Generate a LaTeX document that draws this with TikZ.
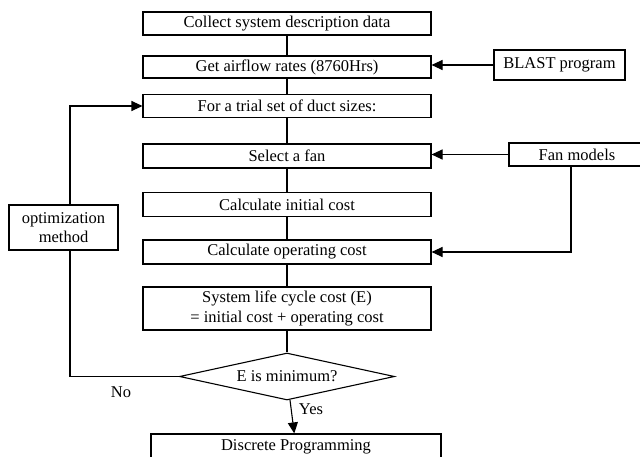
\documentclass[tikz,border=0pt]{standalone}
\usepackage{fontspec}
\setmainfont{Liberation Serif}
\usetikzlibrary{shapes.geometric,arrows.meta}
\begin{document}
\begin{tikzpicture}[x=1pt,y=-1pt,line width=1.1pt,
    box/.style={draw,rectangle,inner sep=0pt,font=\fontsize{16.5}{19.5}\selectfont},
    mainbox/.style={box,minimum width=288pt,minimum height=23pt},
    arr/.style={-{Triangle[length=11pt,width=10pt]}}]
    \useasboundingbox (0,0) rectangle (640,457);
    %
    \node[mainbox] (collect) at (287,23.5) {Collect system description data};
    \node[mainbox,minimum height=22pt] (airflow) at (287,67) {Get airflow rates (8760Hrs)};
    \node[mainbox] (trial) at (287,106) {For a trial set of duct sizes:};
    \node[mainbox,minimum height=24pt] (fan) at (287,156) {Select a fan};
    \node[mainbox,minimum height=24pt] (initial) at (287,204.5) {Calculate initial cost};
    \node[mainbox,minimum height=24pt] (operating) at (287,252) {Calculate operating cost};
    \node[mainbox,minimum height=43pt,align=center] (lcc) at (287,308.5)
        {System life cycle cost (E)\\= initial cost + operating cost};
    \node[draw,diamond,aspect=4.6,inner sep=0pt,minimum width=215pt,minimum height=47pt,
        font=\fontsize{16.5}{19.5}\selectfont] (emin) at (287,376.5) {E is minimum?};
    \node[box,minimum width=290pt,minimum height=26pt] (discrete) at (296,447) {Discrete Programming};
    %
    \node[box,minimum width=131pt,minimum height=30pt] (blast) at (559.5,65) {BLAST program};
    \node[box,minimum width=136pt,minimum height=23pt] (fanmod) at (577,154.5) {Fan models};
    \node[box,minimum width=109pt,minimum height=45pt,align=center] (optim) at (63.5,227.5)
        {optimization\\method};
    %
    \draw (collect) -- (airflow);
    \draw (airflow) -- (trial);
    \draw (trial) -- (fan);
    \draw (fan) -- (initial);
    \draw (initial) -- (operating);
    \draw (operating) -- (lcc);
    \draw (lcc) -- (emin);
    \draw[arr] (emin) -- (discrete);
    %
    \draw[arr] (blast.west) -- (blast.west -| airflow.east);
    \draw[arr] (fanmod.west) -- (fanmod.west -| fan.east);
    \draw[arr] ([xshift=-6pt]fanmod.south) |- (operating.east);
    %
    \draw (emin.west) -| ([xshift=6.5pt]optim.south);
    \draw[arr] ([xshift=6.5pt]optim.north) |- (trial.west);
    %
    \node[font=\fontsize{16.5}{19.5}\selectfont] (no) at (121,392) {No};
    \node[font=\fontsize{16.5}{19.5}\selectfont] (yes) at (311,409) {Yes};
\end{tikzpicture}
\end{document}
